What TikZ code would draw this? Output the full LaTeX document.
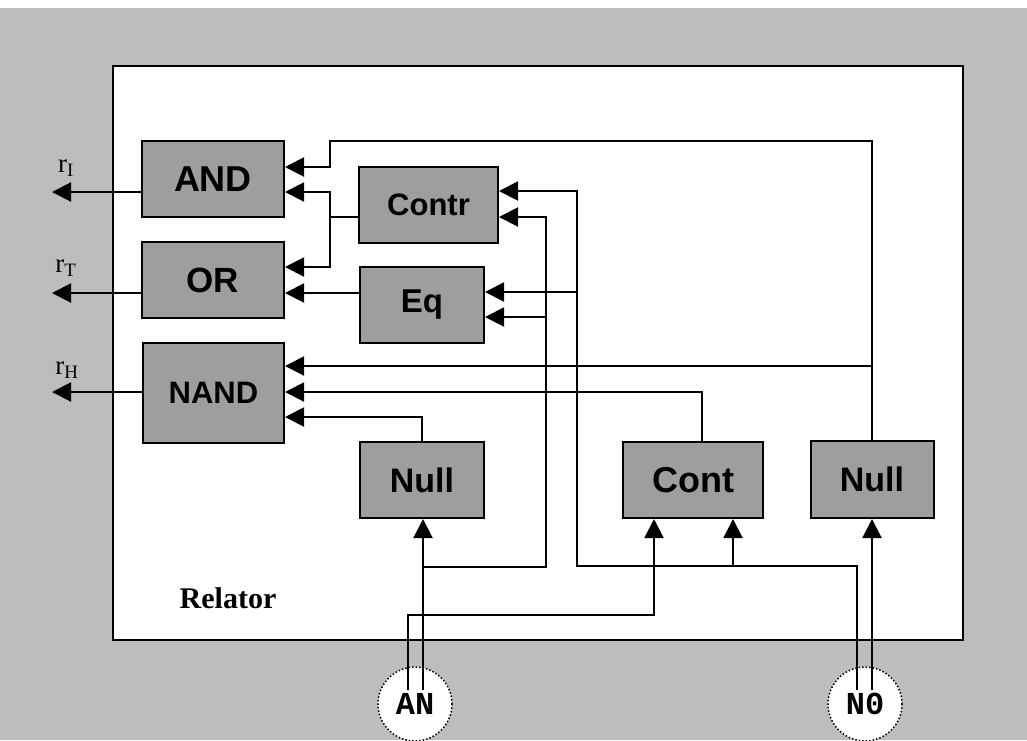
\documentclass[tikz,border=0pt]{standalone}
\usepackage{fontspec}
\setmainfont{Liberation Serif}
\newfontfamily\gatefont{Liberation Sans}
\newfontfamily\portfont{Liberation Mono}
\usetikzlibrary{arrows.meta}

\begin{document}
\begin{tikzpicture}[x=1pt, y=-1pt, line width=2pt, >={Triangle[length=19pt,width=19pt]},
	gate/.style={draw, line width=2pt, fill=black!38, inner sep=0pt, font=\gatefont\bfseries\fontsize{#1}{#1}\selectfont},
	gate/.default=36,
	port/.style={circle, draw, dotted, line width=1.5pt, fill=white, minimum size=74pt, inner sep=0pt, font=\portfont\bfseries\fontsize{32}{34}\selectfont},
	outlbl/.style={font=\fontsize{27}{29}\selectfont}]
	% Hintergrund und Rahmen
	\useasboundingbox (0,0) rectangle (1027,740);
	\fill[black!26] (0,8) rectangle (1027,740);
	\draw[line width=2.6pt, fill=white] (113,66) rectangle (963,640);
	\node[font=\bfseries\fontsize{30}{32}\selectfont] (rel) at (228,598) {Relator};
	
	% Gatter
	\node[gate, minimum width=142pt, minimum height=76pt] (andg) at (213,179) {AND};
	\node[gate=35, minimum width=142pt, minimum height=76pt] (org) at (213,280) {OR};
	\node[gate=31, minimum width=141pt, minimum height=100pt] (nandg) at (213.5,393) {NAND};
	\node[gate=31, minimum width=139pt, minimum height=76pt] (contr) at (428.5,205) {Contr};
	\node[gate=33, minimum width=124pt, minimum height=76pt] (eq) at (422,305) {Eq};
	\node[gate=34, minimum width=124pt, minimum height=76pt] (nulla) at (422,480) {Null};
	\node[gate, minimum width=140pt, minimum height=76pt] (cont) at (693,480) {Cont};
	\node[gate=34, minimum width=123pt, minimum height=77pt] (nullb) at (872,479.5) {Null};
	
	% Eingaenge
	\node[port] (an) at (415,704) {AN};
	\node[port] (no) at (865,704) {N0};
	\coordinate (anl) at (408,690);
	\coordinate (anr) at (423,690);
	\coordinate (nol) at (857,690);
	\coordinate (nor) at (872,690);
	
	% Ausgaenge
	\coordinate (ri) at (52,192);
	\coordinate (rt) at (52,293);
	\coordinate (rh) at (52,392);
	\draw[->] (andg.west |- 0,192) -- (ri);
	\draw[->] (org.west |- 0,293) -- (rt);
	\draw[->] (nandg.west |- 0,392) -- (rh);
	\node[outlbl] (lri) at (66,168) {r\textsubscript{I}};
	\node[outlbl] (lrt) at (66,268) {r\textsubscript{T}};
	\node[outlbl] (lrh) at (67,370) {r\textsubscript{H}};
	
	% Verbindungen zu AND, OR, NAND
	\draw[->] (nullb.north) -- (nullb.north |- 0,141) -- (330,141) |- (andg.east |- 0,167);
	\draw[->] (nullb.north |- 0,366) -- (nandg.east |- 0,366);
	\draw[->] (contr.west |- 0,217) -| (330,192) -- (andg.east |- 0,192);
	\draw[->] (330,217) |- (org.east |- 0,267);
	\draw[->] (eq.west |- 0,293) -- (org.east |- 0,293);
	\draw[->] (nulla.north) |- (nandg.east |- 0,417);
	\draw[->] ([xshift=9pt]cont.north) |- (nandg.east |- 0,392);
	
	% Leitungen von AN
	\draw[->] (anr) -- (anr |- nulla.south);
	\draw[->] (anr |- 0,567) -| (546,217) -- (contr.east |- 0,217);
	\draw[->] (546,317) -- (eq.east |- 0,317);
	\draw[->] (anl) |- (654,615) -- ([xshift=-39pt]cont.south);
	
	% Leitungen von N0
	\draw[->] (nol) |- (577,566) |- (contr.east |- 0,191);
	\draw[->] (577,292) -- (eq.east |- 0,292);
	\draw[->] (733,566) -- ([xshift=40pt]cont.south);
	\draw[->] (nor) -- (nor |- nullb.south);
\end{tikzpicture}
\end{document}
